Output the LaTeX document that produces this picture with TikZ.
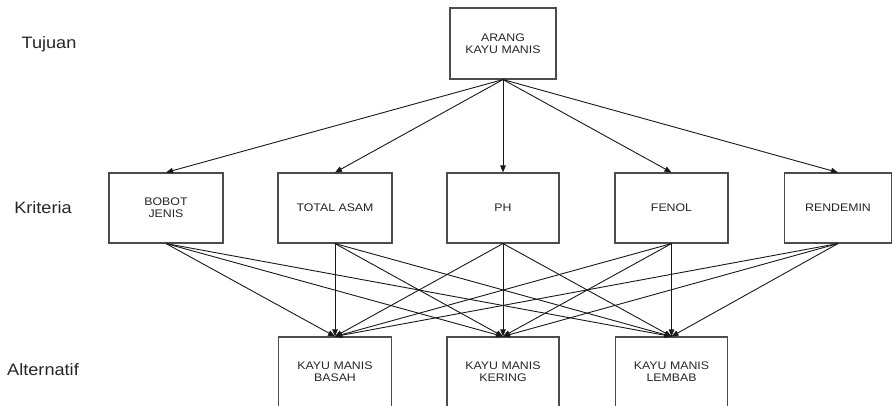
\documentclass[tikz,border=0pt]{standalone}
\usepackage{fontspec}
\setmainfont{Liberation Sans}
\newfontfamily\boxfont[FakeStretch=1.12]{Liberation Sans}
\newfontfamily\labfont[FakeStretch=1.1]{Liberation Sans}
\usetikzlibrary{arrows.meta}
\begin{document}
\begin{tikzpicture}[x=1pt,y=-1pt,
  hbox/.style={draw=black!70,line width=1.1pt,fill=white,inner sep=0pt,
    minimum width=114pt,minimum height=70pt,align=center,text=black!85,
    font=\boxfont\fontsize{11}{12}\selectfont},
  lvl/.style={text=black!85,font=\labfont\fontsize{16.5}{18}\selectfont,inner sep=0pt},
  conn/.style={draw=black!90,line width=0.9pt,-{Triangle[length=7pt,width=5.5pt]}}]
\useasboundingbox (0,0) rectangle (893,405);
\begin{scope}
\clip (0,0) rectangle (893,405);
% levels
\node[lvl] (lt) at (49,44) {Tujuan};
\node[lvl] (lk) at (43,208) {Kriteria};
\node[lvl] (la) at (43,370) {Alternatif};
% goal
\node[hbox,minimum width=106pt,minimum height=71pt] (g) at (503,43.5) {ARANG\\KAYU MANIS};
% criteria
\node[hbox] (k1) at (166,208) {BOBOT\\JENIS};
\node[hbox] (k2) at (335,208) {TOTAL ASAM};
\node[hbox,minimum width=112pt] (k3) at (503,208) {PH};
\node[hbox,minimum width=113pt] (k4) at (671.5,208) {FENOL};
\node[hbox,minimum width=107pt] (k5) at (838,208) {RENDEMIN};
% alternatives
\node[hbox,minimum width=113pt] (a1) at (335,372) {KAYU MANIS\\BASAH};
\node[hbox,minimum width=112pt] (a2) at (503,372) {KAYU MANIS\\KERING};
\node[hbox,minimum width=112pt] (a3) at (671.5,372) {KAYU MANIS\\LEMBAB};
% goal -> criteria
\foreach \k in {k1,k2,k3,k4,k5}
  \draw[conn] (g.south) -- (\k.north);
% criteria -> alternatives
\foreach \k in {k1,k2,k3,k4,k5}
  \foreach \a in {a1,a2,a3}
    \draw[conn] (\k.south) -- (\a.north);
\end{scope}
\end{tikzpicture}
\end{document}
